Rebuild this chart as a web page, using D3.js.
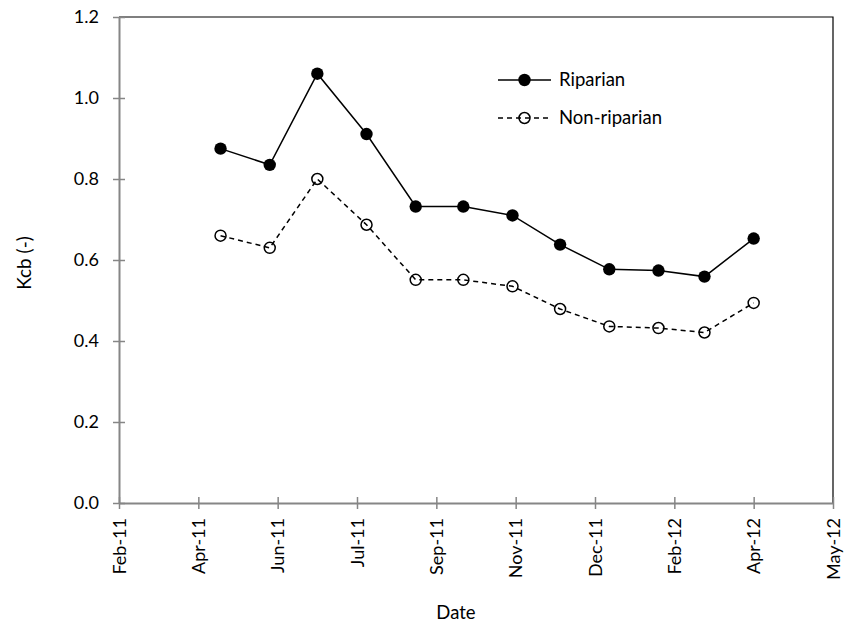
<!DOCTYPE html>
<html>
<head>
<meta charset="utf-8">
<script src="https://cdn.jsdelivr.net/npm/d3@7"></script>
<style>
  html, body { margin: 0; padding: 0; background: #fff; }
  svg { display: block; }
  text { font-family: Lato, "Open Sans", sans-serif; fill: #000; }
</style>
</head>
<body>
<svg id="chart" width="848" height="630"></svg>
<script>
// ---- data ----
const dates = ["2011-05-02","2011-06-02","2011-07-02","2011-08-02","2011-09-02","2011-10-02",
               "2011-11-02","2011-12-02","2012-01-02","2012-02-02","2012-03-02","2012-04-02"];
const riparian = [0.875, 0.835, 1.060, 0.911, 0.732, 0.732, 0.710, 0.638, 0.577, 0.574, 0.559, 0.653];
const nonRiparian = [0.660, 0.630, 0.800, 0.687, 0.551, 0.551, 0.535, 0.479, 0.436, 0.432, 0.421, 0.494];
const xTickDates = ["2011-02-27","2011-04-18","2011-06-07","2011-07-27","2011-09-15","2011-11-04",
                    "2011-12-24","2012-02-12","2012-04-02","2012-05-22"];
const yTicks = [0, 0.2, 0.4, 0.6, 0.8, 1.0, 1.2];
const seriesNames = ["Riparian", "Non-riparian"];

// ---- layout ----
const L = 119, R = 833, T = 17, B = 503;
const parse = d3.utcParse("%Y-%m-%d");
const xt = xTickDates.map(parse);
const x = d3.scaleUtc().domain([xt[0], xt[xt.length - 1]]).range([L, R]);
const y = d3.scaleLinear().domain([0, 1.2]).range([B, T]);
const svg = d3.select("#chart");
const axisGray = "#868686";

// plot border (top & right)
svg.append("path").attr("d", `M${L},${T}H${R}V${B}`).attr("fill", "none").attr("stroke", "#000").attr("stroke-width", 1.2);

// y axis
const yAxis = svg.append("g").attr("transform", `translate(${L},0)`)
  .call(d3.axisLeft(y).tickValues(yTicks).tickFormat(d3.format(".1f")).tickSizeInner(6).tickSizeOuter(0).tickPadding(14));
yAxis.select(".domain").attr("stroke", axisGray).attr("stroke-width", 2);
yAxis.selectAll(".tick line").attr("stroke", axisGray).attr("stroke-width", 1.5).attr("x1", 6).attr("x2", -6);
yAxis.selectAll(".tick text").attr("font-size", 18).attr("font-family", "Lato").attr("fill", "#000");

// x axis
const xAxis = svg.append("g").attr("transform", `translate(0,${B})`)
  .call(d3.axisBottom(x).tickValues(xt).tickFormat(d3.utcFormat("%b-%y")).tickSizeInner(6).tickSizeOuter(0));
xAxis.select(".domain").attr("stroke", axisGray).attr("stroke-width", 2);
xAxis.selectAll(".tick line").attr("stroke", axisGray).attr("stroke-width", 1.5).attr("y1", -6).attr("y2", 6);
xAxis.selectAll(".tick text")
  .attr("font-size", 18).attr("font-family", "Lato").attr("fill", "#000")
  .attr("transform", "rotate(-90)")
  .attr("x", -15).attr("y", 0).attr("dy", "0.35em")
  .attr("text-anchor", "end");

// axis titles
svg.append("text").attr("x", 456).attr("y", 619).attr("text-anchor", "middle").attr("font-size", 18.5).text("Date");
svg.append("text").attr("transform", "translate(31,263) rotate(-90)").attr("text-anchor", "middle").attr("font-size", 19).text("Kcb (-)");

// series
const pts = (vals) => dates.map((d, i) => ({ d: parse(d), v: vals[i] }));
const line = d3.line().x(p => x(p.d)).y(p => y(p.v));

const rip = pts(riparian), non = pts(nonRiparian);

svg.append("path").datum(non).attr("d", line).attr("fill", "none").attr("stroke", "#000")
  .attr("stroke-width", 1.5).attr("stroke-dasharray", "5,4");
svg.selectAll("circle.non").data(non).enter().append("circle").attr("class", "non")
  .attr("cx", p => x(p.d)).attr("cy", p => y(p.v)).attr("r", 5.5)
  .attr("fill", "none").attr("stroke", "#000").attr("stroke-width", 1.5);

svg.append("path").datum(rip).attr("d", line).attr("fill", "none").attr("stroke", "#000").attr("stroke-width", 1.5);
svg.selectAll("circle.rip").data(rip).enter().append("circle").attr("class", "rip")
  .attr("cx", p => x(p.d)).attr("cy", p => y(p.v)).attr("r", 6.2).attr("fill", "#000");

// legend
const lg = svg.append("g");
const items = [{ name: seriesNames[0], y: 80, dash: null, fill: "#000", r: 6.2 },
               { name: seriesNames[1], y: 118, dash: "5,4", fill: "none", r: 5.5 }];
items.forEach(it => {
  lg.append("line").attr("x1", 498).attr("x2", 551).attr("y1", it.y).attr("y2", it.y)
    .attr("stroke", "#000").attr("stroke-width", 1.5).attr("stroke-dasharray", it.dash);
  lg.append("circle").attr("cx", 524.5).attr("cy", it.y).attr("r", it.r)
    .attr("fill", it.fill).attr("stroke", "#000").attr("stroke-width", it.fill === "none" ? 1.5 : 0);
  lg.append("text").attr("x", 559).attr("y", it.y).attr("dy", "0.35em").attr("font-size", 18.5).text(it.name);
});
</script>
</body>
</html>
